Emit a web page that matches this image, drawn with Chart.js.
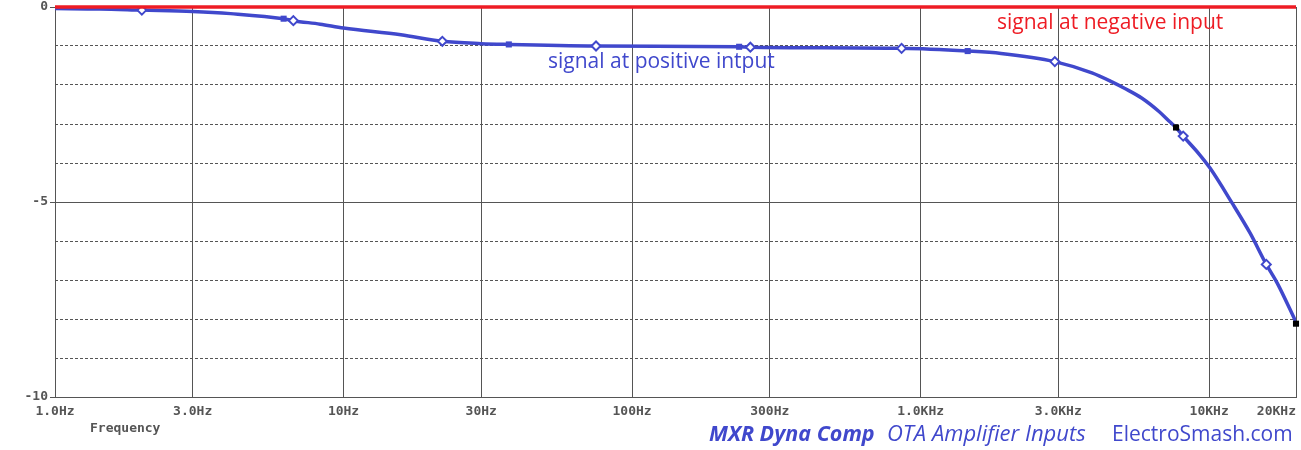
<!DOCTYPE html>
<html>
<head>
<meta charset="utf-8">
<script src="https://cdn.jsdelivr.net/npm/chart.js@4/dist/chart.umd.min.js"></script>
<style>
  html, body { margin: 0; padding: 0; background: #fff; }
  #wrap { width: 1301px; height: 450px; position: relative; }
</style>
</head>
<body>
<div id="wrap"><canvas id="c" width="1301" height="450"></canvas></div>
<script>
// ---- data ----
const freqHz = [1, 1.43, 2, 3, 4.06, 6.2, 6.7, 8.3, 10, 15.8, 22, 30, 37.4, 75, 235, 257, 859, 1456, 1900, 2918, 3924, 4603, 5105, 5852, 6702, 7323, 7679, 8128, 9231, 10070, 12020, 13870, 15780, 17220, 20000];
const positiveDb = [-0.04, -0.05, -0.08, -0.115, -0.17, -0.30, -0.35, -0.44, -0.54, -0.71, -0.88, -0.94, -0.96, -1.0, -1.02, -1.03, -1.06, -1.13, -1.19, -1.40, -1.69, -1.92, -2.09, -2.34, -2.68, -2.95, -3.09, -3.31, -3.77, -4.13, -5.03, -5.8, -6.6, -7.08, -8.08];
const negativeFreq = [1, 20000];
const negativeDb = [0, 0];
const diamondFreq = [2, 6.7, 22, 75, 257, 859, 2918, 8128, 15780];
const diamondDb = [-0.08, -0.35, -0.88, -1.0, -1.03, -1.06, -1.40, -3.31, -6.6];
const blueSquareFreq = [6.2, 37.4, 235, 1456];
const blueSquareDb = [-0.30, -0.96, -1.02, -1.13];
const blackSquareFreq = [7679, 20000];
const blackSquareDb = [-3.09, -8.12];
const xTickValues = [1, 3, 10, 30, 100, 300, 1000, 3000, 10000, 20000];
const xTickLabels = ['1.0Hz', '3.0Hz', '10Hz', '30Hz', '100Hz', '300Hz', '1.0KHz', '3.0KHz', '10KHz', '20KHz     '];
const yMajorTicks = [0, -5, -10];
const yMajorLabels = ['0', '-5', '-10'];
const yMinorTicks = [-1, -2, -3, -4, -6, -7, -8, -9];

const BLUE = '#4048cc';
const RED = '#ee1c24';
const GRID = '#555555';
const pts = (xs, ys) => xs.map((x, i) => ({ x: x, y: ys[i] }));

const textPlugin = {
  id: 'texts',
  afterDraw(chart) {
    const ctx = chart.ctx;
    ctx.save();
    ctx.textBaseline = 'alphabetic';
    ctx.textAlign = 'left';
    ctx.fillStyle = RED;
    ctx.font = '21px "Open Sans"';
    ctx.fillText('signal at negative input', 997, 29);
    ctx.fillStyle = BLUE;
    ctx.fillText('signal at positive intput', 548, 68);
    ctx.fillStyle = GRID;
    ctx.font = 'bold 13px "DejaVu Sans Mono"';
    ctx.fillText('Frequency', 90, 432);
    ctx.fillStyle = BLUE;
    ctx.font = 'italic bold 21.5px "Open Sans"';
    ctx.fillText('MXR Dyna Comp', 709, 441);
    ctx.font = 'italic 22px "Open Sans"';
    ctx.fillText('OTA Amplifier Inputs', 887, 441);
    ctx.font = '21px "Open Sans"';
    ctx.fillText('ElectroSmash.com', 1112, 441);
    ctx.restore();
  }
};

new Chart(document.getElementById('c'), {
  type: 'line',
  data: {
    datasets: [
      { label: 'neg', data: pts(negativeFreq, negativeDb), borderColor: RED, borderWidth: 3.5, pointRadius: 0, order: 0, clip: false },
      { label: 'diamonds', data: pts(diamondFreq, diamondDb), showLine: false, pointStyle: 'rectRot', pointRadius: 4.5, pointBorderWidth: 2, pointBackgroundColor: '#fff', pointBorderColor: BLUE, order: 1 },
      { label: 'bsq', data: pts(blueSquareFreq, blueSquareDb), showLine: false, pointStyle: 'rect', pointRadius: 4.3, pointBorderWidth: 0, pointBackgroundColor: BLUE, order: 1 },
      { label: 'ksq', data: pts(blackSquareFreq, blackSquareDb), showLine: false, pointStyle: 'rect', pointRadius: 4.3, pointBorderWidth: 0, pointBackgroundColor: '#000', order: 1, clip: false },
      { label: 'pos', data: pts(freqHz, positiveDb), borderColor: BLUE, borderWidth: 3.5, pointRadius: 0, cubicInterpolationMode: 'monotone', order: 2 }
    ]
  },
  options: {
    responsive: false,
    animation: false,
    events: [],
    layout: { autoPadding: false, padding: { top: 7, right: 5, left: 0, bottom: 0 } },
    plugins: { legend: { display: false }, tooltip: { enabled: false } },
    scales: {
      x: {
        type: 'logarithmic', min: 1, max: 20000,
        afterBuildTicks: (s) => { s.ticks = xTickValues.map(v => ({ value: v })); },
        afterFit: (s) => { s.height = 53; s.paddingLeft = 0; s.paddingRight = 0; },
        ticks: {
          autoSkip: false, maxRotation: 0, minRotation: 0, padding: 7,
          color: GRID, font: { family: 'DejaVu Sans Mono', size: 13, weight: 'bold' },
          callback: (v, i) => xTickLabels[i]
        },
        grid: { color: GRID, lineWidth: 1, drawTicks: false },
        border: { color: GRID, width: 1 }
      },
      y: {
        type: 'linear', min: -10, max: 0, position: 'left',
        afterBuildTicks: (s) => { s.ticks = yMajorTicks.map(v => ({ value: v })); },
        afterFit: (s) => { s.width = 55; s.paddingTop = 0; s.paddingBottom = 0; },
        ticks: {
          padding: 2, color: GRID, font: { family: 'DejaVu Sans Mono', size: 13, weight: 'bold' },
          callback: (v, i) => yMajorLabels[i]
        },
        grid: { color: GRID, lineWidth: 1, drawTicks: true, tickLength: 5 },
        border: { color: GRID, width: 1 }
      },
      yMinor: {
        type: 'linear', min: -10, max: 0, position: 'left',
        afterBuildTicks: (s) => { s.ticks = yMinorTicks.map(v => ({ value: v })); },
        afterFit: (s) => { s.width = 0; s.paddingTop = 0; s.paddingBottom = 0; },
        ticks: { display: false },
        grid: { color: GRID, lineWidth: 1, drawTicks: false },
        border: { display: false, dash: [3, 2] }
      }
    }
  },
  plugins: [textPlugin]
});
</script>
</body>
</html>
